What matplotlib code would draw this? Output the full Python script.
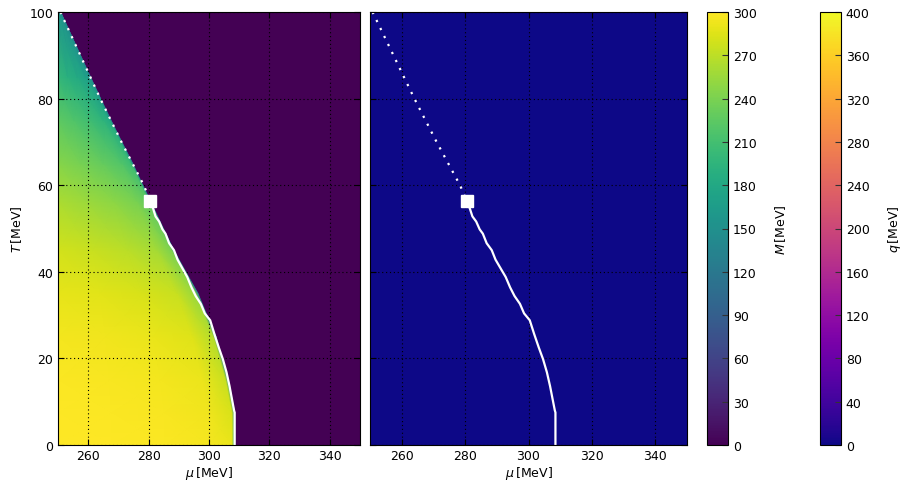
import numpy as np
import matplotlib.pyplot as plt

plt.rcParams['font.size'] = 9
plt.rcParams['xtick.direction'] = 'in'
plt.rcParams['ytick.direction'] = 'in'
plt.rcParams['xtick.top'] = True
plt.rcParams['ytick.right'] = True
plt.rcParams['xtick.major.size'] = 4
plt.rcParams['ytick.major.size'] = 4
plt.rcParams['xtick.major.pad'] = 3

# first order line (solid), ends in the critical point
mu_first = [280.5, 281.5, 282.3, 283.5, 284.6, 285.6, 286.8, 288.4, 289.6, 291.2, 292.8, 294.2,
            295.6, 297.3, 298.6, 300.4, 301.8, 303.2, 304.6, 305.8, 306.8, 307.6, 308.3, 308.5, 308.5]
T_first = [56.4, 54.6, 52.8, 51.6, 49.8, 48.8, 46.6, 45.0, 42.8, 40.8, 38.8, 36.4,
           34.4, 32.6, 30.4, 28.8, 25.6, 22.6, 19.8, 16.8, 13.6, 10.6, 8.0, 7.5, 0.0]

# crossover line (dotted)
mu_cross = [250.8, 254.1, 257.4, 260.7, 264.0, 267.5, 271.0, 274.7, 278.4, 280.5]
T_cross = [100, 95, 90, 85, 80, 75, 70, 65, 60, 56.4]

mu_cep, T_cep = 280.5, 56.4

# constituent mass in the broken phase, rows at T_rows,
# columns at fractions of the way from mu=250 to the phase edge
T_rows = [0, 7.5, 15, 25, 35, 45, 56.4, 65, 75, 85, 100]
mu_edge = [308.5, 308.5, 306.4, 302.3, 296.3, 288.3, 280.5, 274.7, 267.5, 260.7, 250.8]
col_frac = [0, 0.3, 0.6, 0.85, 0.985, 1.0]
M_rows = [
    [299, 299, 298, 296, 290, 180],
    [299, 298, 297, 294, 282, 160],
    [298, 297, 295, 291, 275, 150],
    [295, 293, 290, 285, 265, 140],
    [289, 286, 282, 275, 252, 130],
    [280, 275, 269, 260, 240, 130],
    [262, 255, 248, 238, 225, 140],
    [246, 238, 229, 218, 205, 135],
    [226, 217, 207, 195, 182, 125],
    [200, 191, 182, 170, 158, 120],
    [158, 155, 152, 150, 145, 130],
]

# restored phase: M = 0, q = 0 everywhere
mu_range = [250, 350]
T_range = [0, 100]
M_normal = [[0]]
q_vals = [[0]]

edge = np.array(mu_edge)
X = 250 + np.outer(edge - 250, col_frac)
Y = np.repeat(np.array(T_rows)[:, None], len(col_frac), axis=1)

fig = plt.figure(figsize=(9.02, 4.81), dpi=100)
ax1 = fig.add_axes([58/902, 1-446/481, 302/902, 433/481])
ax2 = fig.add_axes([370/902, 1-446/481, 317/902, 433/481])
cax1 = fig.add_axes([707/902, 1-446/481, 21/902, 433/481])
cax2 = fig.add_axes([820/902, 1-446/481, 21/902, 433/481])

ax1.pcolormesh(mu_range, T_range, M_normal, cmap='viridis', vmin=0, vmax=300)
mesh_M = ax1.pcolormesh(X, Y, np.array(M_rows), shading='gouraud', cmap='viridis', vmin=0, vmax=300)
mesh_q = ax2.pcolormesh(mu_range, T_range, q_vals, cmap='plasma', vmin=0, vmax=400)

for ax in (ax1, ax2):
    ax.plot(mu_first, T_first, color='white', lw=1.6)
    ax.plot(mu_cross, T_cross, color='white', lw=1.6, linestyle=(0, (1, 3)))
    ax.plot(mu_cep, T_cep, 's', color='white', ms=8.5, mec='white')
    ax.set_xlim(250, 350)
    ax.set_ylim(0, 100)
    ax.set_xticks([260, 280, 300, 320, 340])
    ax.set_yticks([0, 20, 40, 60, 80, 100])
    ax.grid(True, color='black', lw=0.8, linestyle=(0, (1, 2.5)))
    ax.set_xlabel(r'$\mu\,$[MeV]', labelpad=1)
ax1.set_ylabel(r'$T\,$[MeV]')
ax2.tick_params(labelleft=False)

cb1 = fig.colorbar(mesh_M, cax=cax1, ticks=np.arange(0, 301, 30))
cb1.set_label(r'$M\,$[MeV]', labelpad=12)
cb2 = fig.colorbar(mesh_q, cax=cax2, ticks=np.arange(0, 401, 40))
cb2.set_label(r'$q\,$[MeV]', labelpad=12)
for cb in (cb1, cb2):
    cb.ax.tick_params(direction='in', length=4, color='0.2')

fig.savefig('out.png', dpi=100)
